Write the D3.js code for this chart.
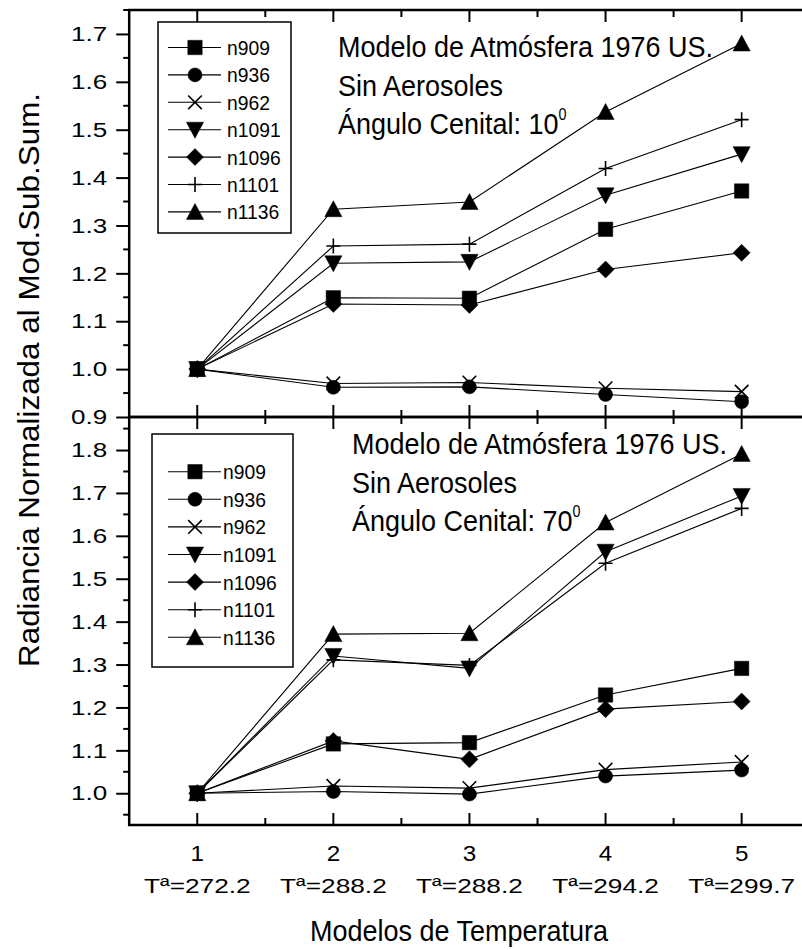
<!DOCTYPE html>
<html>
<head>
<meta charset="utf-8">
<script src="https://cdn.jsdelivr.net/npm/d3@7"></script>
<style>
  body { margin: 0; background: #fff; }
  text { font-family: "Liberation Sans", Arial, sans-serif; fill: #000; }
</style>
</head>
<body>
<script>
// modelos de temperatura (eje x)
var modelos = [1, 2, 3, 4, 5];
var tempLabels = ['Tª=272.2', 'Tª=288.2', 'Tª=288.2', 'Tª=294.2', 'Tª=299.7'];
var names = ['n909', 'n936', 'n962', 'n1091', 'n1096', 'n1101', 'n1136'];
var shapes = ['square', 'circle', 'x', 'tridown', 'diamond', 'plus', 'triup'];

// angulo cenital 10
var a10_n909  = [1, 1.149, 1.148, 1.292, 1.372];
var a10_n936  = [1, 0.962, 0.963, 0.947, 0.932];
var a10_n962  = [1, 0.970, 0.972, 0.960, 0.953];
var a10_n1091 = [1, 1.221, 1.224, 1.363, 1.449];
var a10_n1096 = [1, 1.136, 1.134, 1.208, 1.243];
var a10_n1101 = [1, 1.257, 1.261, 1.419, 1.521];
var a10_n1136 = [1, 1.334, 1.349, 1.537, 1.680];

// angulo cenital 70
var a70_n909  = [1, 1.115, 1.118, 1.229, 1.291];
var a70_n936  = [1, 1.004, 0.998, 1.040, 1.054];
var a70_n962  = [1, 1.017, 1.012, 1.055, 1.073];
var a70_n1091 = [1, 1.320, 1.291, 1.563, 1.693];
var a70_n1096 = [1, 1.122, 1.079, 1.196, 1.214];
var a70_n1101 = [1, 1.311, 1.298, 1.536, 1.664];
var a70_n1136 = [1, 1.371, 1.373, 1.631, 1.791];

var topTicks = [0.9, 1.0, 1.1, 1.2, 1.3, 1.4, 1.5, 1.6, 1.7];
var botTicks = [1.0, 1.1, 1.2, 1.3, 1.4, 1.5, 1.6, 1.7, 1.8];

var W = 802, H = 950;
var svg = d3.select('body').append('svg')
  .attr('width', W).attr('height', H);

var x = d3.scaleLinear().domain([0.5, 5.5]).range([129.2, 809.7]);

var panels = [
  { series: [a10_n909, a10_n936, a10_n962, a10_n1091, a10_n1096, a10_n1101, a10_n1136],
    y: d3.scaleLinear().domain([0.9, 1.75]).range([417, 10]),
    ticks: topTicks, minorFrom: 0.95, minorTo: 1.75,
    angle: '10', textX: 338, textY: 57, lineGap: 38.5,
    legend: { x: 158, y: 22, w: 133, h: 211, row0: 47.5, dy: 27.4, sym: 195, tx: 227 } },
  { series: [a70_n909, a70_n936, a70_n962, a70_n1091, a70_n1096, a70_n1101, a70_n1136],
    y: d3.scaleLinear().domain([0.926, 1.877]).range([825, 417]),
    ticks: botTicks, minorFrom: 0.95, minorTo: 1.85,
    angle: '70', textX: 352, textY: 454, lineGap: 38.5,
    legend: { x: 152, y: 434, w: 141, h: 233, row0: 471.7, dy: 27.6, sym: 195, tx: 223 } }
];

function symbolPath(s) {
  switch (s) {
    case 'square': return 'M-7.2,-7.2H7.2V7.2H-7.2Z';
    case 'circle': return 'M-7,0A7,7 0 1,0 7,0A7,7 0 1,0 -7,0Z';
    case 'tridown': return 'M-8.6,-7.5H8.6L0,8.5Z';
    case 'triup': return 'M-8.6,7.5H8.6L0,-8.5Z';
    case 'diamond': return 'M0,-8.5L8.5,0L0,8.5L-8.5,0Z';
    case 'x': return 'M-6.8,-6.8L6.8,6.8M-6.8,6.8L6.8,-6.8';
    case 'plus': return 'M-7,0H7M0,-7.5V7.5';
  }
}

function drawMarker(g, s, cx, cy) {
  var open = (s === 'x' || s === 'plus');
  g.append('path')
    .attr('d', symbolPath(s))
    .attr('transform', 'translate(' + cx + ',' + cy + ')')
    .attr('fill', open ? 'none' : '#000')
    .attr('stroke', '#000')
    .attr('stroke-width', open ? 1.6 : 0.5);
}

panels.forEach(function(p) {
  var g = svg.append('g');
  var y = p.y;
  var y0 = y.range()[0], y1 = y.range()[1];

  // lines
  var line = d3.line().x(function(d, i) { return x(modelos[i]); }).y(function(d) { return y(d); });
  p.series.forEach(function(s) {
    g.append('path').datum(s)
      .attr('d', line)
      .attr('fill', 'none')
      .attr('stroke', '#000')
      .attr('stroke-width', 1.1);
  });
  p.series.forEach(function(s, si) {
    s.forEach(function(v, i) { drawMarker(g, shapes[si], x(modelos[i]), y(v)); });
  });

  // frame
  g.append('rect')
    .attr('x', x(0.5)).attr('y', y1)
    .attr('width', x(5.5) - x(0.5)).attr('height', y0 - y1)
    .attr('fill', 'none').attr('stroke', '#000').attr('stroke-width', 2.5);

  // x ticks inward, bottom and top
  var xMinor = d3.range(1.5, 5.6, 1);
  [y0, y1].forEach(function(yy, k) {
    var dir = k === 0 ? -1 : 1;
    g.selectAll(null).data(modelos).enter().append('line')
      .attr('x1', function(d) { return x(d); }).attr('x2', function(d) { return x(d); })
      .attr('y1', yy).attr('y2', yy + dir * 12)
      .attr('stroke', '#000').attr('stroke-width', 2);
    g.selectAll(null).data(xMinor).enter().append('line')
      .attr('x1', function(d) { return x(d); }).attr('x2', function(d) { return x(d); })
      .attr('y1', yy).attr('y2', yy + dir * 7)
      .attr('stroke', '#000').attr('stroke-width', 2);
  });

  // y axis
  var yAxis = d3.axisLeft(y).tickValues(p.ticks).tickSize(13).tickPadding(9)
    .tickFormat(d3.format('.1f'));
  var ag = g.append('g').attr('transform', 'translate(' + x(0.5) + ',0)').call(yAxis);
  ag.select('.domain').remove();
  ag.selectAll('.tick line').attr('stroke-width', 2);
  ag.selectAll('.tick text')
    .attr('font-size', 21)
    .attr('font-family', '"Liberation Sans", Arial, sans-serif')
    .attr('x', -22 / 1.24)
    .attr('transform', 'scale(1.24,1)');
  var yMinor = d3.range(p.minorFrom, p.minorTo + 0.001, 0.1);
  g.selectAll(null).data(yMinor).enter().append('line')
    .attr('x1', x(0.5) - 6).attr('x2', x(0.5))
    .attr('y1', function(d) { return y(d); }).attr('y2', function(d) { return y(d); })
    .attr('stroke', '#000').attr('stroke-width', 2);

  // annotation text (tall, slightly narrow)
  var lines = ['Modelo de Atmósfera 1976 US.', 'Sin Aerosoles'];
  lines.forEach(function(s, i) {
    g.append('text')
      .attr('transform', 'translate(' + p.textX + ',' + (p.textY + i * p.lineGap) + ') scale(0.9,1)')
      .attr('font-size', 30).text(s);
  });
  var ang = g.append('text')
    .attr('transform', 'translate(' + p.textX + ',' + (p.textY + 2 * p.lineGap) + ') scale(0.9,1)')
    .attr('font-size', 30);
  ang.append('tspan').text('Ángulo Cenital: ' + p.angle);
  ang.append('tspan').attr('font-size', 16).attr('dy', -14).text('0');

  // legend
  var L = p.legend;
  var lg = g.append('g');
  lg.append('rect').attr('x', L.x).attr('y', L.y).attr('width', L.w).attr('height', L.h)
    .attr('fill', '#fff').attr('stroke', '#000').attr('stroke-width', 1.5);
  names.forEach(function(n, i) {
    var cy = L.row0 + i * L.dy;
    lg.append('line').attr('x1', L.sym - 27).attr('x2', L.sym + 26)
      .attr('y1', cy).attr('y2', cy).attr('stroke', '#000').attr('stroke-width', 1.1);
    drawMarker(lg, shapes[i], L.sym, cy);
    lg.append('text')
      .attr('transform', 'translate(' + L.tx + ',' + (cy + 7.5) + ') scale(0.92,1)')
      .attr('font-size', 21).text(n);
  });
});

// x labels
var xl = svg.append('g');
xl.selectAll(null).data(modelos).enter().append('text')
  .attr('transform', function(d) { return 'translate(' + x(d) + ',861) scale(1.1,1)'; })
  .attr('text-anchor', 'middle').attr('font-size', 22).text(function(d) { return d; });
xl.selectAll(null).data(tempLabels).enter().append('text')
  .attr('transform', function(d, i) { return 'translate(' + x(modelos[i]) + ',893) scale(1.25,1)'; })
  .attr('text-anchor', 'middle').attr('font-size', 21).text(function(d) { return d; });

svg.append('text')
  .attr('transform', 'translate(459,941) scale(0.9,1)')
  .attr('text-anchor', 'middle')
  .attr('font-size', 30).text('Modelos de Temperatura');

svg.append('text')
  .attr('transform', 'translate(39,380) rotate(-90)')
  .attr('text-anchor', 'middle').attr('font-size', 29)
  .attr('textLength', 574).attr('lengthAdjust', 'spacingAndGlyphs')
  .text('Radiancia Normalizada al Mod.Sub.Sum.');
</script>
</body>
</html>
